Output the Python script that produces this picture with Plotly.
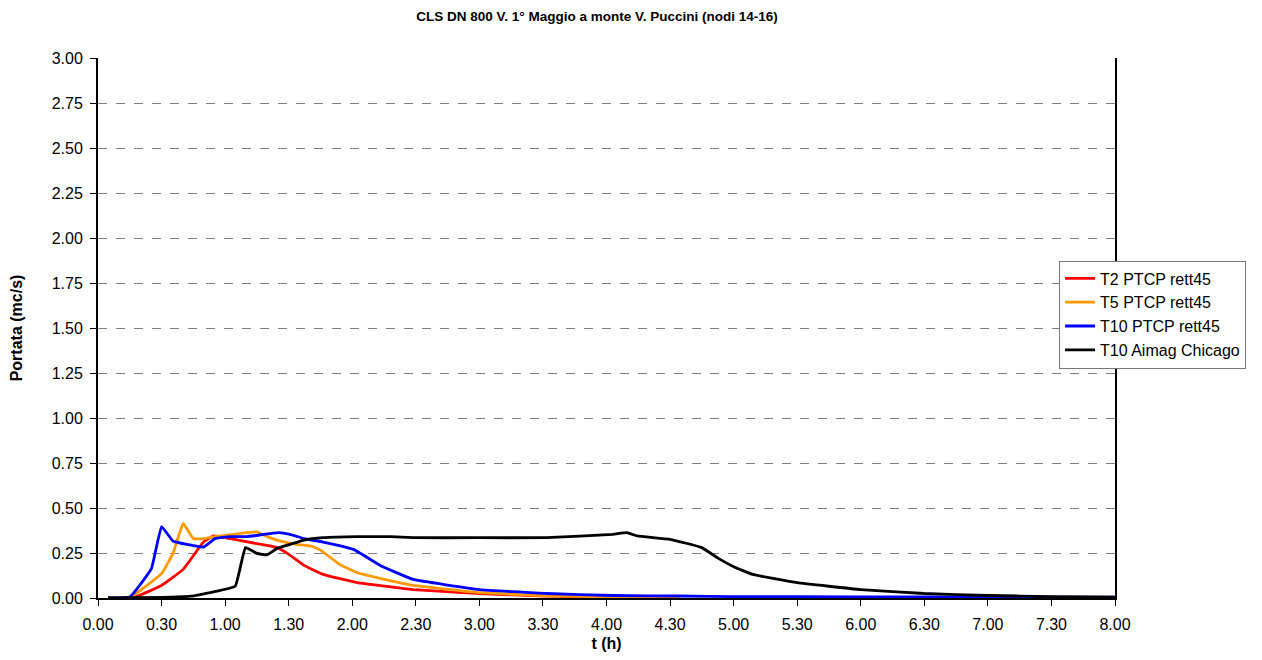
import plotly.graph_objects as go

# Time (h) and discharge (mc/s)
t_t2 = [0.08, 0.28, 0.50, 0.67, 0.83, 0.91, 1.04, 1.25, 1.41, 1.49, 1.62, 1.77, 2.04, 2.30, 2.48, 3.00, 3.53, 4.05, 4.58]
q_t2 = [0.000, 0.002, 0.070, 0.159, 0.311, 0.345, 0.330, 0.302, 0.280, 0.248, 0.181, 0.131, 0.085, 0.062, 0.047, 0.025, 0.010, 0.005, 0.003]

t_t5 = [0.08, 0.25, 0.50, 0.59, 0.67, 0.75, 0.83, 0.92, 1.07, 1.17, 1.25, 1.33, 1.43, 1.56, 1.67, 1.75, 1.90, 2.04, 2.22, 2.48, 3.00, 3.53, 4.05, 4.58]
q_t5 = [0.000, 0.002, 0.135, 0.248, 0.414, 0.330, 0.330, 0.341, 0.354, 0.363, 0.367, 0.341, 0.317, 0.298, 0.289, 0.266, 0.187, 0.140, 0.109, 0.070, 0.030, 0.012, 0.006, 0.004]

t_t10 = [0.08, 0.25, 0.42, 0.50, 0.59, 0.83, 0.92, 1.04, 1.17, 1.42, 1.51, 1.62, 1.77, 2.01, 2.22, 2.48, 3.00, 3.53, 4.05, 4.58, 5.00, 6.00, 7.00, 8.00]
q_t10 = [0.000, 0.005, 0.163, 0.397, 0.317, 0.283, 0.330, 0.341, 0.341, 0.363, 0.354, 0.330, 0.311, 0.270, 0.181, 0.103, 0.047, 0.025, 0.014, 0.011, 0.008, 0.006, 0.005, 0.005]

t_chi = [0.08, 0.50, 0.73, 0.935, 1.08, 1.16, 1.25, 1.33, 1.41, 1.51, 1.62, 1.77, 2.04, 2.30, 2.48, 3.00, 3.53, 4.05, 4.16, 4.24, 4.50, 4.75, 4.88, 5.00, 5.15, 5.50, 6.00, 6.50, 7.00, 7.50, 8.00]
q_chi = [0.000, 0.003, 0.010, 0.038, 0.066, 0.280, 0.248, 0.240, 0.276, 0.298, 0.322, 0.335, 0.341, 0.341, 0.335, 0.335, 0.335, 0.354, 0.363, 0.345, 0.326, 0.280, 0.220, 0.174, 0.131, 0.085, 0.047, 0.025, 0.014, 0.008, 0.005]

x_tickvals = [i * 0.5 for i in range(17)]
x_ticktext = ["0.00", "0.30", "1.00", "1.30", "2.00", "2.30", "3.00", "3.30", "4.00",
              "4.30", "5.00", "5.30", "6.00", "6.30", "7.00", "7.30", "8.00"]
y_tickvals = [i * 0.25 for i in range(13)]

series = [
    ("T2 PTCP rett45", t_t2, q_t2, "#FF0000"),
    ("T5 PTCP rett45", t_t5, q_t5, "#FF9900"),
    ("T10 PTCP rett45", t_t10, q_t10, "#0000FF"),
    ("T10 Aimag Chicago", t_chi, q_chi, "#000000"),
]

fig = go.Figure()
for name, xs, ys, col in series:
    fig.add_trace(go.Scatter(x=xs, y=ys, mode="lines", name=name,
                             line=dict(color=col, width=2.8, shape="spline", smoothing=0.3)))

font = "Liberation Sans, Arial, sans-serif"
fig.update_layout(
    width=1246, height=644,
    margin=dict(l=90, r=139, t=50, b=54, autoexpand=False),
    paper_bgcolor="white", plot_bgcolor="white",
    font=dict(family=font, size=16, color="black"),
    title=dict(text="<b>CLS DN 800 V. 1° Maggio a monte V. Puccini (nodi 14-16)</b>",
               x=0.4727, xanchor="center", y=1 - 8 / 644, yanchor="middle",
               font=dict(size=13.5, family=font)),
    showlegend=True,
    legend=dict(x=0.945, y=0.625, xanchor="left", yanchor="top",
                bgcolor="white", bordercolor="#777777", borderwidth=1,
                font=dict(size=16, family=font), tracegroupgap=0, itemwidth=30),
    xaxis=dict(range=[0, 8], tickmode="array", tickvals=x_tickvals, ticktext=x_ticktext,
               showgrid=False, zeroline=False, showline=True, linecolor="black", linewidth=2,
               ticks="outside", ticklen=6, tickcolor="black", automargin=False,
               ticklabelstandoff=5,
               title=dict(text="<b>t (h)</b>", font=dict(size=16), standoff=7)),
    yaxis=dict(range=[0, 3], tickmode="array", tickvals=y_tickvals, tickformat=".2f",
               showgrid=True, gridcolor="#808080", griddash="dash", gridwidth=1,
               zeroline=False, showline=True, linecolor="black", linewidth=2, mirror=True,
               ticks="outside", ticklen=6, tickcolor="black", automargin=False,
               ticklabelstandoff=4,
               title=dict(text="<b>Portata (mc/s)</b>", font=dict(size=16), standoff=26)),
)

fig.write_html("out.html")
